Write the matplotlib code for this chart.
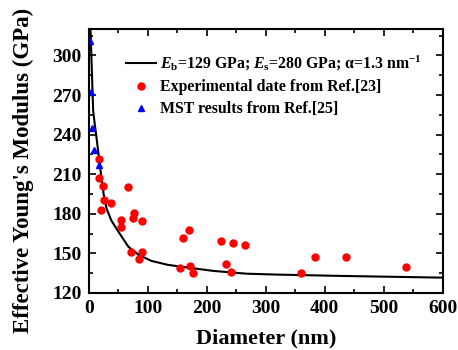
"""
Effective Young's modulus vs nanowire diameter: model curve, experiment, MST.
"""
import matplotlib
matplotlib.use("Agg")
from matplotlib import pyplot
from matplotlib.ticker import MultipleLocator

# model curve
curve_d = [2.8, 4, 7.3, 10, 14, 20, 25, 30, 38, 50, 67, 84, 106, 134, 163,
           211, 267, 320, 428, 600]
curve_e = [320, 303, 258, 248, 234, 212, 195, 184, 175, 166.5, 155, 149,
           144.3, 141.3, 139.5, 136.7, 134.6, 133.9, 132.9, 131.6]

# experimental data, Ref.[23]
exp_d = [17.5, 17, 24, 67, 25.5, 37, 20, 54, 55, 76, 75, 90, 72, 90, 85,
         155, 160, 169, 171, 176, 224, 233, 241, 245, 265, 359, 383, 436, 538]
exp_e = [221.5, 207, 200.7, 200, 190.6, 188.4, 183, 175.4, 170, 180.5, 177,
         174.7, 150.9, 150.9, 145.6, 139.2, 161.5, 167.8, 140.5, 135, 159.5,
         142, 136, 157.5, 156.2, 135, 147.6, 147.6, 140]

# MST results, Ref.[25]
mst_d = [2.5, 4, 4.5, 9, 17]
mst_e = [311, 272, 245, 228, 217]


def main():
    pyplot.rcParams["font.family"] = "Liberation Serif"
    pyplot.rcParams["font.weight"] = "bold"
    pyplot.rcParams["mathtext.fontset"] = "custom"
    pyplot.rcParams["mathtext.rm"] = "Liberation Serif:bold"
    pyplot.rcParams["mathtext.it"] = "Liberation Serif:italic:bold"

    fig = pyplot.figure(figsize=(4.58, 3.5), dpi=100)
    ax = fig.add_axes([0.194, 0.163, 0.773, 0.754])

    ax.plot(curve_d, curve_e, color="black", lw=1.5,
            label=r"$E_\mathrm{b}$=129 GPa; $E_\mathrm{s}$=280 GPa; α=1.3 nm$^\mathrm{-1}$")
    ax.plot(exp_d, exp_e, "o", color="red", ms=5, ls="none",
            label="Experimental date from Ref.[23]")
    ax.plot(mst_d, mst_e, "^", color="blue", ms=5, ls="none",
            label="MST results from Ref.[25]")

    ax.set_xlim(0, 600)
    ax.set_ylim(120, 320)
    ax.xaxis.set_major_locator(MultipleLocator(100))
    ax.xaxis.set_minor_locator(MultipleLocator(50))
    ax.yaxis.set_major_locator(MultipleLocator(30))
    ax.yaxis.set_minor_locator(MultipleLocator(15))
    ax.tick_params(which="both", direction="in", top=True, right=True,
                   width=1.2, labelsize=14)
    ax.tick_params(which="major", length=5, pad=5)
    ax.tick_params(which="minor", length=3)
    for s in ax.spines.values():
        s.set_linewidth(1.5)

    ax.set_xlabel("Diameter (nm)", fontsize=16, fontweight="bold", labelpad=8)
    ax.set_ylabel("Effective Young's Modulus (GPa)", fontsize=16.5,
                  fontweight="bold")
    ax.yaxis.set_label_coords(-0.155, 0.465)

    ax.legend(loc="upper left", bbox_to_anchor=(0.105, 0.905), frameon=False,
              fontsize=11.4, handlelength=1.9, borderaxespad=0, borderpad=0,
              labelspacing=0.38, handletextpad=0.25)

    fig.savefig("out.png", dpi=100)
    pyplot.close(fig)


if __name__ == "__main__":
    main()
